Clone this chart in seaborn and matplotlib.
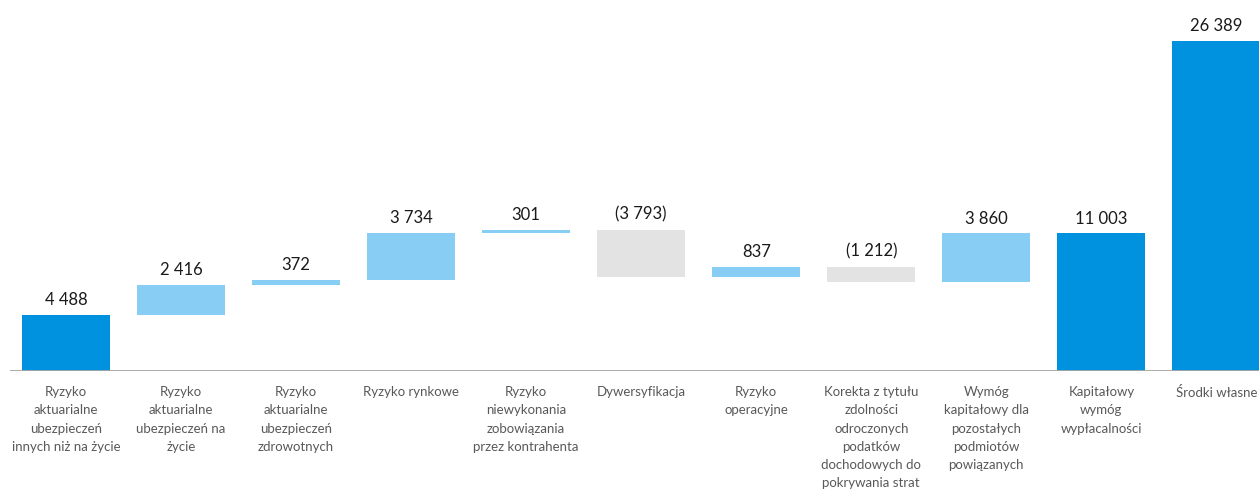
import numpy as np
import pandas as pd
import matplotlib
matplotlib.use("Agg")
import matplotlib.pyplot as plt
import seaborn as sns

# 数据：瀑布图各项（单位与原图一致）
categories = [
    "Ryzyko\naktuarialne\nubezpieczeń\ninnych niż na życie",
    "Ryzyko\naktuarialne\nubezpieczeń na\nżycie",
    "Ryzyko\naktuarialne\nubezpieczeń\nzdrowotnych",
    "Ryzyko rynkowe",
    "Ryzyko\nniewykonania\nzobowiązania\nprzez kontrahenta",
    "Dywersyfikacja",
    "Ryzyko\noperacyjne",
    "Korekta z tytułu\nzdolności\nodroczonych\npodatków\ndochodowych do\npokrywania strat",
    "Wymóg\nkapitałowy dla\npozostałych\npodmiotów\npowiązanych",
    "Kapitałowy\nwymóg\nwypłacalności",
    "Środki własne",
]
values = [4488, 2416, 372, 3734, 301, -3793, 837, -1212, 3860, 11003, 26389]
kinds = ["total", "step", "step", "step", "step", "step", "step", "step", "step", "total", "total"]

# 配色
color_total = "#0091DF"
color_up = "#87CDF4"
color_down = "#E3E3E3"

sns.set_theme(style="white")
plt.rcParams["font.family"] = ["Lato", "DejaVu Sans"]

# 计算每根柱子的起点
bottoms = []
running = 0
for v, k in zip(values, kinds):
    if k == "total":
        bottoms.append(0)
        running = v
    else:
        bottoms.append(running)
        running += v
bottoms = np.array(bottoms, dtype=float)
heights = np.array(values, dtype=float)

df = pd.DataFrame({"cat": categories, "height": heights})
colors = [color_total if k == "total" else (color_up if v > 0 else color_down)
          for v, k in zip(values, kinds)]

fig = plt.figure(figsize=(12.59, 4.90), dpi=100)
ax = fig.add_axes([10 / 1259, 119 / 490, 1 - 10 / 1259, 370 / 490])

sns.barplot(data=df, x="cat", y="height", bottom=bottoms, width=0.765,
            color=color_total, errorbar=None, ax=ax, order=categories)
for patch, c in zip(ax.patches, colors):
    patch.set_facecolor(c)
    patch.set_edgecolor("none")

# 数值标签
for i, (v, b) in enumerate(zip(values, bottoms)):
    top = max(b, b + v)
    txt = f"{abs(v):,}".replace(",", " ")
    if v < 0:
        txt = f"({txt})"
    ax.annotate(txt, (i, top), xytext=(0, 5), textcoords="offset points",
                ha="center", va="bottom", fontsize=12, color="#1a1a1a")

ax.axhline(0, color="#A6A6A6", lw=1.3)
ax.set_xlim(-0.487, 10.37)
ax.set_ylim(0, 29600)
ax.set_xlabel("")
ax.set_ylabel("")
ax.set_yticks([])
for s in ax.spines.values():
    s.set_visible(False)
ax.tick_params(axis="x", length=0, pad=11, labelsize=9.5, labelcolor="#595959")
for lab in ax.get_xticklabels():
    lab.set_linespacing(1.62)
    lab.set_ha("center")

fig.savefig("out.png", dpi=100)
